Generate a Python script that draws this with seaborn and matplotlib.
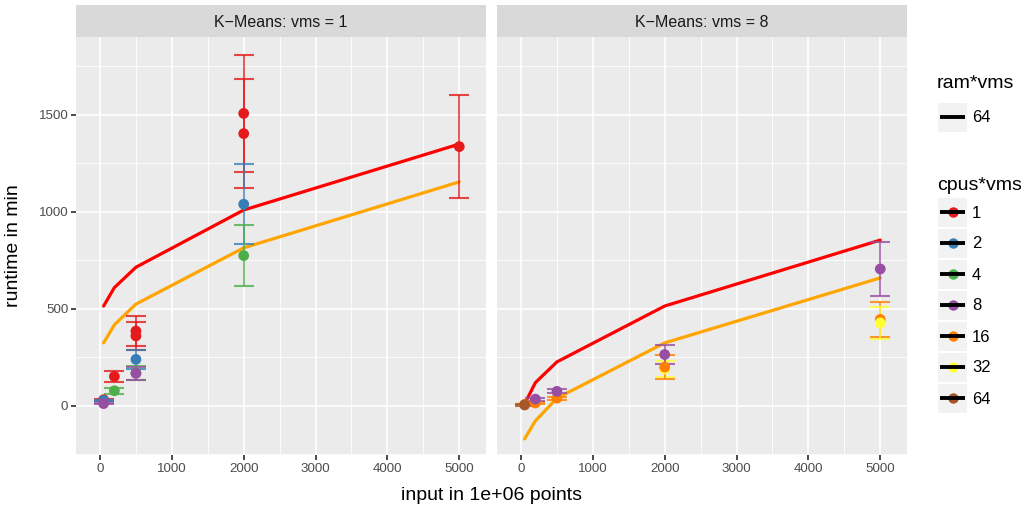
import numpy as np
import pandas as pd
import matplotlib
matplotlib.use("Agg")
import matplotlib.pyplot as plt
import seaborn as sns
from matplotlib.patches import Rectangle

# ---------------- data ----------------
input_sizes = [50, 200, 500, 2000, 5000]
pred_red_vms1 = [515, 610, 715, 1010, 1350]
pred_orange_vms1 = [325, 418, 525, 815, 1155]
pred_red_vms8 = [10, 120, 227, 515, 855]
pred_orange_vms8 = [-170, -77, 40, 325, 660]

m1_input = [50, 50, 50, 200, 200, 500, 500, 500, 500, 500, 2000, 2000, 2000, 2000, 5000]
m1_cpus = [1, 2, 8, 1, 4, 1, 1, 2, 4, 8, 1, 1, 2, 4, 1]
m1_mean = [32, 28, 12, 152, 78, 386, 361, 240, 170, 168, 1508, 1404, 1040, 775, 1337]
m1_sd = [6, 5, 4, 28, 15, 78, 72, 48, 36, 34, 300, 280, 207, 157, 266]

m8_input = [50, 50, 200, 200, 500, 500, 2000, 2000, 2000, 5000, 5000, 5000]
m8_cpus = [16, 64, 16, 8, 16, 8, 32, 16, 8, 16, 32, 8]
m8_mean = [8, 5, 15, 35, 40, 75, 190, 200, 265, 446, 428, 706]
m8_sd = [4, 6, 6, 8, 8, 10, 40, 60, 50, 90, 84, 140]

cpus_levels = [1, 2, 4, 8, 16, 32, 64]
cpus_colors = ["#E41A1C", "#377EB8", "#4DAF4A", "#984EA3", "#FF7F00", "#FFFF33", "#A65628"]
ram_levels = ["64"]
panel_titles = ["K\u2212Means: vms = 1", "K\u2212Means: vms = 8"]

palette = dict(zip(cpus_levels, cpus_colors))

# ---------------- styling ----------------
sns.set_theme(style="darkgrid")
plt.rcParams["font.family"] = ["Liberation Sans", "DejaVu Sans"]

W, H = 1027, 513
fig = plt.figure(figsize=(W / 100, H / 100), dpi=100)
fig.patch.set_facecolor("white")

panel_left = [76, 497]
panel_w = 410
panel_top, panel_bot = 37, 455
strip_top = 5

xlim = (-334, 5372)
ylim = (-253, 1902)

meas = [
    pd.DataFrame({"input": m1_input, "cpus": m1_cpus, "runtime": m1_mean, "sd": m1_sd}),
    pd.DataFrame({"input": m8_input, "cpus": m8_cpus, "runtime": m8_mean, "sd": m8_sd}),
]
preds = [
    pd.DataFrame({"input": input_sizes * 2,
                  "runtime": pred_red_vms1 + pred_orange_vms1,
                  "model": ["a"] * 5 + ["b"] * 5}),
    pd.DataFrame({"input": input_sizes * 2,
                  "runtime": pred_red_vms8 + pred_orange_vms8,
                  "model": ["a"] * 5 + ["b"] * 5}),
]

for i in range(2):
    x0 = panel_left[i]
    ax = fig.add_axes([x0 / W, 1 - panel_bot / H, panel_w / W, (panel_bot - panel_top) / H])
    ax.set_facecolor("#EBEBEB")
    for s in ax.spines.values():
        s.set_visible(False)

    sns.lineplot(data=preds[i], x="input", y="runtime", hue="model",
                 palette={"a": "#FF0000", "b": "#FFA500"}, ax=ax, legend=False,
                 linewidth=2.3, zorder=3)

    df = meas[i]
    for _, r in df.iterrows():
        ax.errorbar(r["input"], r["runtime"], yerr=r["sd"], fmt="none",
                    ecolor=palette[int(r["cpus"])], alpha=0.8, capsize=7,
                    elinewidth=1.3, capthick=1.5, zorder=4)
    sns.scatterplot(data=df, x="input", y="runtime", hue="cpus", palette=palette,
                    ax=ax, legend=False, s=60, linewidth=0, zorder=5)

    ax.set_xlim(*xlim)
    ax.set_ylim(*ylim)
    ax.set_xticks([0, 1000, 2000, 3000, 4000, 5000])
    ax.set_xticks([500, 1500, 2500, 3500, 4500], minor=True)
    ax.set_yticks([0, 500, 1000, 1500])
    ax.set_yticks([-250, 250, 750, 1250, 1750], minor=True)
    ax.grid(which="major", color="white", linewidth=1.2)
    ax.grid(which="minor", color="white", linewidth=0.6)
    ax.set_axisbelow(True)
    ax.set_xlabel("")
    ax.set_ylabel("")
    ax.tick_params(axis="x", which="major", length=3.5, color="#333333",
                   labelsize=9.6, labelcolor="#4D4D4D", pad=2, bottom=True)
    ax.tick_params(which="minor", length=0)
    if i == 0:
        ax.tick_params(axis="y", which="major", length=3.5, color="#333333",
                       labelsize=9.6, labelcolor="#4D4D4D", pad=2, left=True)
    else:
        ax.tick_params(axis="y", which="major", length=0, labelleft=False)

    # strip
    sax = fig.add_axes([x0 / W, 1 - panel_top / H, panel_w / W, (panel_top - strip_top) / H])
    sax.set_facecolor("#D9D9D9")
    sax.set_xticks([])
    sax.set_yticks([])
    for s in sax.spines.values():
        s.set_visible(False)
    sax.text(0.5, 0.45, panel_titles[i], ha="center", va="center",
             fontsize=11.5, color="#1A1A1A", transform=sax.transAxes)

fig.text((76 + 907) / 2 / W, 1 - 495 / H, "input in 1e+06 points",
         ha="center", va="center", fontsize=14, color="black")
fig.text(14 / W, 1 - 246 / H, "runtime in min", ha="center", va="center",
         rotation=90, fontsize=14, color="black")

# ---------------- legends (drawn in pixel coordinates) ----------------
lax = fig.add_axes([0, 0, 1, 1], facecolor="none")
lax.set_xlim(0, W)
lax.set_ylim(H, 0)
lax.axis("off")

def draw_key(yc, label, color=None):
    lax.add_patch(Rectangle((938, yc - 14.5), 29, 29, facecolor="#F2F2F2",
                            edgecolor="none"))
    if color is not None:
        lax.plot([952.5], [yc], marker="o", markersize=7.5, color=color,
                 markeredgewidth=0, linestyle="none")
    lax.plot([940, 965], [yc, yc], color="black", linewidth=2.8,
             solid_capstyle="butt")
    lax.text(972, yc + 1, label, ha="left", va="center", fontsize=12, color="black")

lax.text(937, 83, "ram*vms", ha="left", va="center", fontsize=14, color="black")
for j, lab in enumerate(ram_levels):
    draw_key(117 + 31 * j, lab)

lax.text(937, 185, "cpus*vms", ha="left", va="center", fontsize=14, color="black")
for j, (lab, col) in enumerate(zip(cpus_levels, cpus_colors)):
    draw_key(212 + 31 * j, str(lab), col)

fig.savefig("out.png", dpi=100, facecolor="white")
